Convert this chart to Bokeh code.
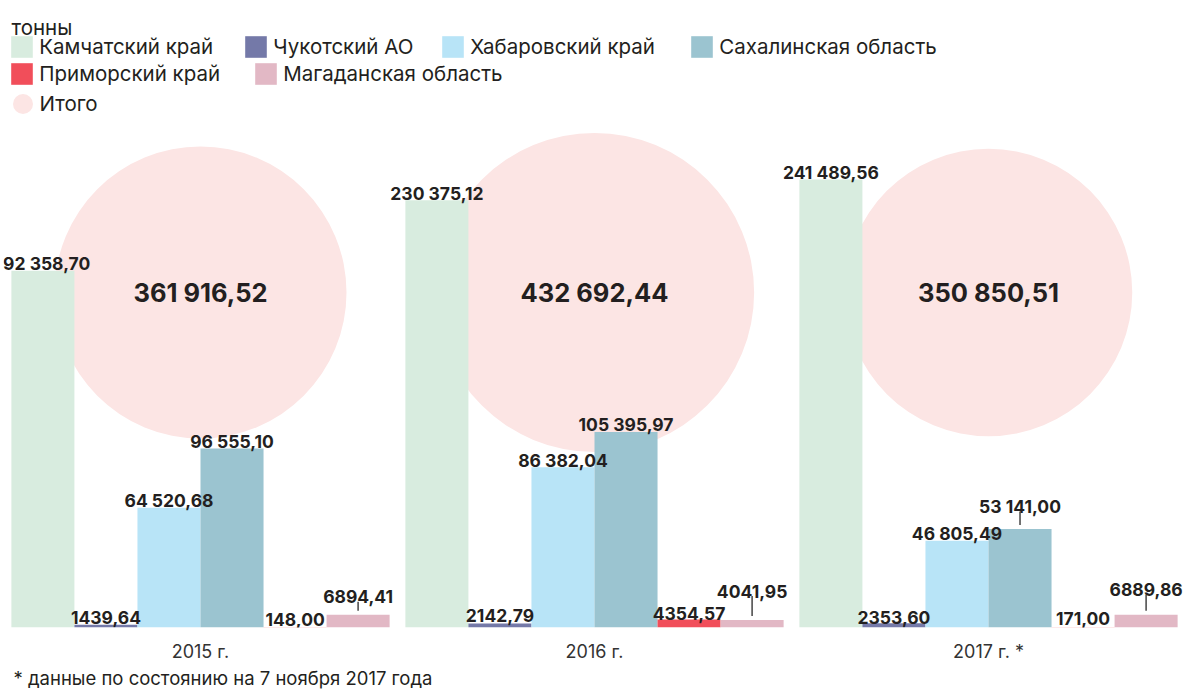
import math
from bokeh.plotting import figure
from bokeh.models import ColumnDataSource, FactorRange, Range1d, Legend, LegendItem, Label, Title
from bokeh.transform import dodge
from bokeh.core.properties import value
from bokeh.embed import file_html
from bokeh.resources import INLINE

# ---------------- data ----------------
years = ["2015 г.", "2016 г.", "2017 г. *"]
regions = ["Камчатский край", "Чукотский АО", "Хабаровский край",
           "Сахалинская область", "Приморский край", "Магаданская область"]
kamchatka = [192358.70, 230375.12, 241489.56]
chukotka = [1439.64, 2142.79, 2353.60]
khabarovsk = [64520.68, 86382.04, 46805.49]
sakhalin = [96555.10, 105395.97, 53141.00]
primorsky = [148.00, 4354.57, 171.00]
magadan = [6894.41, 4041.95, 6889.86]
totals = [361916.52, 432692.44, 350850.51]
unit_label = "тонны"
total_label = "Итого"
footnote = "* данные по состоянию на 7 ноября 2017 года"

series = [kamchatka, chukotka, khabarovsk, sakhalin, primorsky, magadan]

# ---------------- styles / layout ----------------
colors = ["#d8ecdf", "#7479a8", "#b8e4f7", "#9bc4d0", "#f14e5a", "#e2b8c5"]
circle_color = "#fce5e4"
text_color = "#231f20"
FONT = "Inter"

W, H = 1185, 690
FRAME_H = 627
Y_MAX = 338000
K = Y_MAX / FRAME_H            # data units per screen pixel
BAR_W = 0.16
offsets = [(i - 2.5) * BAR_W for i in range(6)]
CIRCLE_PX_PER_SQRT = 0.2427    # circle radius (px) per sqrt(total)
CIRCLE_Y_PX = 335              # circle centre above baseline (px)
# gap (px) between bar top and its label, per [year][region]
LABEL_GAP = [[7, 7, 7, 7, 8, 18],
             [7, 8, 7, 7, 6, 29],
             [7, 6, 7.5, 22.5, 8.5, 25]]


def fmt(v):
    s = f"{v:,.2f}" if v >= 10000 else f"{v:.2f}"
    return s.replace(",", " ").replace(".", ",")


p = figure(width=W, height=H,
           x_range=FactorRange(factors=years, range_padding=0),
           y_range=Range1d(0, Y_MAX),
           output_backend="svg", toolbar_location=None,
           min_border_left=3, min_border_right=0,
           min_border_top=0, min_border_bottom=63)
p.outline_line_color = None
p.background_fill_color = "white"
p.border_fill_color = "white"
p.xgrid.visible = False
p.ygrid.visible = False
p.yaxis.visible = False

xa = p.xaxis[0]
xa.axis_line_color = None
xa.major_tick_line_color = None
xa.major_tick_out = 0
xa.major_tick_in = 0
xa.minor_tick_line_color = None
xa.major_label_standoff = 13
xa.major_label_text_font = FONT
xa.major_label_text_font_size = "18px"
xa.major_label_text_color = "#333333"

# ---- totals circles (behind) ----
csrc = ColumnDataSource(dict(
    x=years,
    y=[CIRCLE_Y_PX * K] * len(years),
    d=[2 * CIRCLE_PX_PER_SQRT * math.sqrt(t) for t in totals],
    t=[fmt(t) for t in totals],
))
circ = p.ellipse(x="x", y="y", width="d", height="d",
                 width_units="screen", height_units="screen",
                 fill_color=circle_color, line_color=None, source=csrc)

# ---- bars ----
bar_renderers = []
for i, (name, vals) in enumerate(zip(regions, series)):
    src = ColumnDataSource(dict(
        year=years, top=vals,
        label=[fmt(v) for v in vals],
        yoff=[-LABEL_GAP[j][i] for j in range(len(years))],
    ))
    r = p.vbar(x=dodge("year", offsets[i], range=p.x_range), top="top",
               width=BAR_W, bottom=0, fill_color=colors[i], line_color=None,
               source=src)
    bar_renderers.append((r, src, i))

# ---- value labels and leader ticks ----
for r, src, i in bar_renderers:
    p.text(x=dodge("year", offsets[i], range=p.x_range), y="top", text="label",
           y_offset="yoff", source=src,
           text_align="center", text_baseline="alphabetic",
           text_font=value(FONT), text_font_style="bold",
           text_font_size="17.5px", text_color=text_color)
    vals = series[i]
    tx, y0, y1 = [], [], []
    for j, v in enumerate(vals):
        gap = LABEL_GAP[j][i]
        if gap > 12:
            tx.append(years[j])
            y0.append(v + 4 * K)
            y1.append(v + (gap - 5) * K)
    if tx:
        tsrc = ColumnDataSource(dict(x=tx, y0=y0, y1=y1))
        p.segment(x0=dodge("x", offsets[i], range=p.x_range), y0="y0",
                  x1=dodge("x", offsets[i], range=p.x_range), y1="y1",
                  line_color="#444444", line_width=1.5, source=tsrc)

# ---- total text ----
p.text(x="x", y="y", text="t", source=csrc,
       text_align="center", text_baseline="middle",
       text_font=value(FONT), text_font_style="bold",
       text_font_size="25.5px", text_color=text_color)

# ---- legends (one per item, flow layout like the original) ----
LEG_FONT_SIZE = "20.5px"
legend_pos = [(11, 45.8), (245, 45.8), (442, 45.8), (691, 45.8),
              (11, 73.5), (255, 73.5)]
GL = 27.5
for (r, src, i), (sx, cy) in zip(bar_renderers, legend_pos):
    lg = Legend(items=[LegendItem(label=regions[i], renderers=[r], index=0)],
                location=(sx - GL * 0.1 - 3, FRAME_H - (cy + GL / 2)),
                orientation="horizontal", glyph_width=int(GL), glyph_height=int(GL),
                label_height=int(GL), label_standoff=4, padding=0, margin=0,
                spacing=0, border_line_color=None, background_fill_alpha=0,
                label_text_font=FONT, label_text_font_size=LEG_FONT_SIZE,
                label_text_color=text_color)
    p.add_layout(lg)

GC = 25
lg_tot = Legend(items=[LegendItem(label=total_label, renderers=[circ], index=0)],
                location=(22 - GC / 2 - 3, FRAME_H - (103 + GC / 2)),
                orientation="horizontal", glyph_width=GC, glyph_height=GC,
                label_height=GC, label_standoff=5, padding=0, margin=0,
                spacing=0, border_line_color=None, background_fill_alpha=0,
                label_text_font=FONT, label_text_font_size=LEG_FONT_SIZE,
                label_text_color=text_color)
p.add_layout(lg_tot)

# ---- unit label and footnote ----
p.add_layout(Label(x=8, y=FRAME_H - 26.7, x_units="screen", y_units="screen",
                   text=unit_label, text_font=FONT, text_font_size=LEG_FONT_SIZE,
                   text_color=text_color, text_baseline="alphabetic"))
p.add_layout(Title(text=footnote, align="left", offset=10, standoff=0,
                   text_font=FONT, text_font_size="18.5px", text_font_style="normal",
                   text_color=text_color), "below")

open("out.html", "w").write(file_html(p, INLINE))
